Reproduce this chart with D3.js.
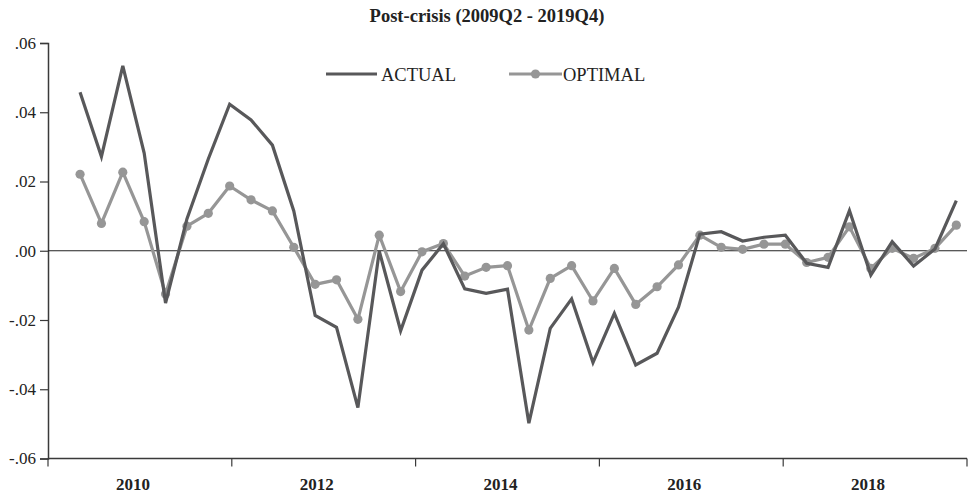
<!DOCTYPE html>
<html>
<head>
<meta charset="utf-8">
<script src="https://cdn.jsdelivr.net/npm/d3@7"></script>
<style>
  html, body { margin: 0; padding: 0; background: #fff; }
  svg { display: block; }
  text { font-family: "Liberation Serif", "Times New Roman", serif; }
</style>
</head>
<body>
<svg id="chart" width="970" height="496"></svg>
<script>
// ---- data ----
const quarters = [
  "2009Q3","2009Q4","2010Q1","2010Q2","2010Q3","2010Q4","2011Q1","2011Q2","2011Q3","2011Q4",
  "2012Q1","2012Q2","2012Q3","2012Q4","2013Q1","2013Q2","2013Q3","2013Q4","2014Q1","2014Q2",
  "2014Q3","2014Q4","2015Q1","2015Q2","2015Q3","2015Q4","2016Q1","2016Q2","2016Q3","2016Q4",
  "2017Q1","2017Q2","2017Q3","2017Q4","2018Q1","2018Q2","2018Q3","2018Q4","2019Q1","2019Q2",
  "2019Q3","2019Q4"
];
const sampleQuarters = 43; // 2009Q2 - 2019Q4 slots on the axis (first slot empty)
const actual = [
  0.0458, 0.0272, 0.0534, 0.0282, -0.0151, 0.0092, 0.0265, 0.0423, 0.0378, 0.0305,
  0.0115, -0.0187, -0.0221, -0.0453, -0.0001, -0.0231, -0.0056, 0.0020, -0.0110, -0.0123,
  -0.0111, -0.0498, -0.0224, -0.0139, -0.0323, -0.0181, -0.0330, -0.0296, -0.0163, 0.0048,
  0.0055, 0.0028, 0.0039, 0.0045, -0.0036, -0.0048, 0.0116, -0.0070, 0.0026, -0.0044,
  0.0005, 0.0145
];
const optimal = [
  0.0221, 0.0079, 0.0227, 0.0084, -0.0125, 0.0071, 0.0108, 0.0187, 0.0147, 0.0115,
  0.0010, -0.0097, -0.0084, -0.0198, 0.0045, -0.0118, -0.0003, 0.0021, -0.0073, -0.0048,
  -0.0043, -0.0229, -0.0080, -0.0043, -0.0145, -0.0051, -0.0155, -0.0104, -0.0041, 0.0045,
  0.0010, 0.0004, 0.0019, 0.0019, -0.0034, -0.0019, 0.0069, -0.0051, 0.0007, -0.0022,
  0.0007, 0.0074
];
const yTicks = [-0.06, -0.04, -0.02, 0.00, 0.02, 0.04, 0.06];
const yTickLabels = ["-.06", "-.04", "-.02", ".00", ".02", ".04", ".06"];
const xLabels = ["2010", "2012", "2014", "2016", "2018"];
const title = "Post-crisis (2009Q2 - 2019Q4)";
const seriesNames = ["ACTUAL", "OPTIMAL"];

// ---- layout ----
const plotLeft = 48, plotRight = 967, plotTop = 43, plotBottom = 458.5;
const svg = d3.select("#chart");

const x = d3.scaleLinear().domain([0, sampleQuarters]).range([plotLeft, plotRight]);
const xBand = d3.scaleBand().domain(xLabels).range([plotLeft, plotRight]).paddingInner(0).paddingOuter(0);
const y = d3.scaleLinear().domain([-0.06, 0.06]).range([plotBottom, plotTop]);

const axisColor = "#3a3a3a";
const actualColor = "#58585a";
const optimalColor = "#969696";

// title
svg.append("text")
  .attr("x", 487).attr("y", 22)
  .attr("text-anchor", "middle")
  .attr("font-weight", "bold")
  .attr("font-size", 18.5)
  .attr("fill", "#222")
  .text(title);

// y axis
const yAxis = d3.axisLeft(y)
  .tickValues(yTicks)
  .tickFormat((d, i) => yTickLabels[i])
  .tickSize(8)
  .tickPadding(4);
const gy = svg.append("g").attr("transform", `translate(${plotLeft},0)`).call(yAxis);
gy.select(".domain").attr("stroke", axisColor).attr("stroke-width", 1.5);
gy.selectAll(".tick line").attr("stroke", axisColor).attr("stroke-width", 1.2);
gy.selectAll(".tick text")
  .attr("font-family", "Liberation Serif, serif")
  .attr("font-size", 17)
  .attr("fill", "#222");

// x axis: ticks at band edges, labels at band centres
const gx = svg.append("g").attr("transform", `translate(0,${plotBottom})`);
gx.append("line")
  .attr("x1", plotLeft).attr("x2", plotRight)
  .attr("y1", 0).attr("y2", 0)
  .attr("stroke", axisColor).attr("stroke-width", 1.5);
const edges = xLabels.map(d => xBand(d)).concat([xBand.range()[1]]);
gx.selectAll("line.tick").data(edges).join("line")
  .attr("class", "tick")
  .attr("x1", d => d).attr("x2", d => d)
  .attr("y1", 0).attr("y2", 8)
  .attr("stroke", axisColor).attr("stroke-width", 1.2);
gx.selectAll("text.lbl").data(xLabels).join("text")
  .attr("class", "lbl")
  .attr("x", d => xBand(d) + xBand.bandwidth() / 2 - 7)
  .attr("y", 31)
  .attr("text-anchor", "middle")
  .attr("font-weight", "bold")
  .attr("font-size", 17)
  .attr("fill", "#222")
  .text(d => d);

// zero line
svg.append("line")
  .attr("x1", plotLeft).attr("x2", plotRight)
  .attr("y1", y(0)).attr("y2", y(0))
  .attr("stroke", "#222").attr("stroke-width", 1.2);

// series
const xi = (d, i) => x(i + 1.5);
const line = d3.line().x(xi).y(d => y(d));

svg.append("path")
  .datum(optimal)
  .attr("d", line)
  .attr("fill", "none")
  .attr("stroke", optimalColor)
  .attr("stroke-width", 3.2)
  .attr("stroke-linejoin", "round");
svg.append("g").selectAll("circle").data(optimal).join("circle")
  .attr("cx", xi).attr("cy", d => y(d))
  .attr("r", 4.6)
  .attr("fill", optimalColor);

svg.append("path")
  .datum(actual)
  .attr("d", line)
  .attr("fill", "none")
  .attr("stroke", actualColor)
  .attr("stroke-width", 3.2)
  .attr("stroke-linejoin", "miter");

// legend
const leg = svg.append("g");
leg.append("line").attr("x1", 326).attr("x2", 377).attr("y1", 74).attr("y2", 74)
  .attr("stroke", actualColor).attr("stroke-width", 3.2);
leg.append("text").attr("x", 381).attr("y", 81)
  .attr("font-size", 18.5).attr("fill", "#222").text(seriesNames[0]);
leg.append("line").attr("x1", 509).attr("x2", 562).attr("y1", 74).attr("y2", 74)
  .attr("stroke", optimalColor).attr("stroke-width", 3.2);
leg.append("circle").attr("cx", 535.5).attr("cy", 74).attr("r", 4.6).attr("fill", optimalColor);
leg.append("text").attr("x", 563).attr("y", 81)
  .attr("font-size", 18.5).attr("fill", "#222").text(seriesNames[1]);
</script>
</body>
</html>
